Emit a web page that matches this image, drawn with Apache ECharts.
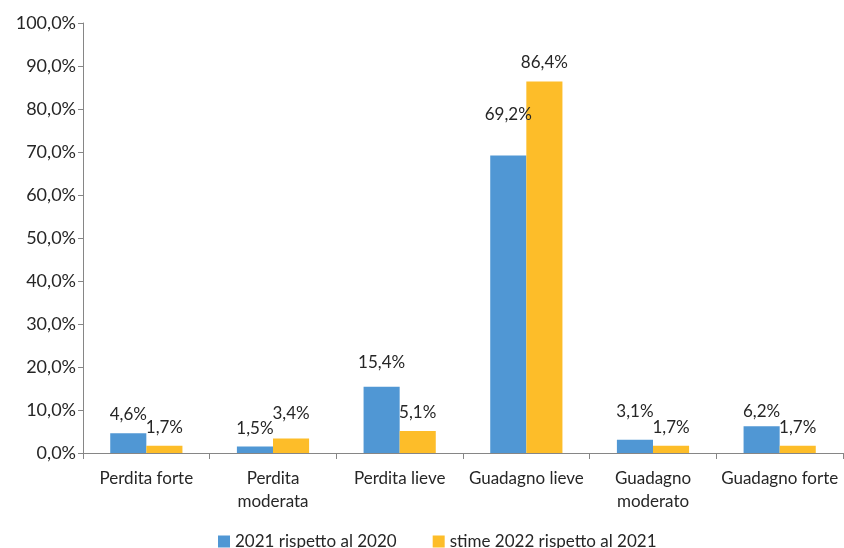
<!DOCTYPE html>
<html>
<head>
<meta charset="utf-8">
<script src="https://cdn.jsdelivr.net/npm/echarts@6/dist/echarts.min.js"></script>
<style>
  html, body { margin: 0; padding: 0; background: #fff; }
  #chart { width: 844px; height: 548px; }
</style>
</head>
<body>
<div id="chart"></div>
<script>
// categorie (a capo come nell'originale)
var categories = ['Perdita forte', 'Perdita\nmoderata', 'Perdita lieve', 'Guadagno lieve', 'Guadagno\nmoderato', 'Guadagno forte']
var seriesNames = ['2021 rispetto al 2020', 'stime 2022 rispetto al 2021']
var values2021 = [4.6, 1.5, 15.4, 69.2, 3.1, 6.2]
var values2022 = [1.7, 3.4, 5.1, 86.4, 1.7, 1.7]

var fontFamily = 'Lato'

function pct(v) {
    return v.toFixed(1).replace('.', ',') + '%'
}

// spostamenti etichette come in Excel
var labelShift2021 = [0, 0, -6, -22, -10, 4]
var labelShift2022 = [0, -6, 0, 0, 0, 0]

function buildData(values, shifts) {
    return values.map(function (v, i) {
        return { value: v, label: { offset: [0, shifts[i]] } }
    })
}

var chart = echarts.init(document.getElementById('chart'))

var option = {
    animation: false,
    textStyle: { fontFamily: fontFamily },
    grid: { left: 83, right: 1, top: 23, bottom: 95 },
    legend: {
        bottom: -7,
        left: 213,
        itemWidth: 12,
        itemHeight: 12,
        itemGap: 36,
        icon: 'rect',
        textStyle: { fontSize: 17, color: '#262626', fontFamily: fontFamily },
        data: seriesNames
    },
    xAxis: {
        type: 'category',
        data: categories,
        axisLine: { lineStyle: { color: '#868686' } },
        axisTick: { show: true, length: 6, lineStyle: { color: '#868686' } },
        axisLabel: { fontSize: 17, color: '#262626', margin: 14, lineHeight: 23, interval: 0 }
    },
    yAxis: {
        type: 'value',
        min: 0,
        max: 100,
        interval: 10,
        splitLine: { show: false },
        axisLine: { show: true, lineStyle: { color: '#868686' } },
        axisTick: { show: true, length: 5, lineStyle: { color: '#868686' } },
        axisLabel: { fontSize: 18, color: '#262626', margin: 7, formatter: pct }
    },
    series: [
        {
            name: seriesNames[0],
            type: 'bar',
            data: buildData(values2021, labelShift2021),
            itemStyle: { color: '#5097d4' },
            barGap: '0%',
            barCategoryGap: '43%',
            label: {
                show: true,
                position: 'top',
                distance: 10,
                fontSize: 17,
                color: '#262626',
                formatter: function (p) { return pct(p.value) }
            }
        },
        {
            name: seriesNames[1],
            type: 'bar',
            data: buildData(values2022, labelShift2022),
            itemStyle: { color: '#fdbd29' },
            barGap: '0%',
            barCategoryGap: '43%',
            label: {
                show: true,
                position: 'top',
                distance: 10,
                fontSize: 17,
                color: '#262626',
                formatter: function (p) { return pct(p.value) }
            }
        }
    ]
}

chart.setOption(option)
</script>
</body>
</html>
